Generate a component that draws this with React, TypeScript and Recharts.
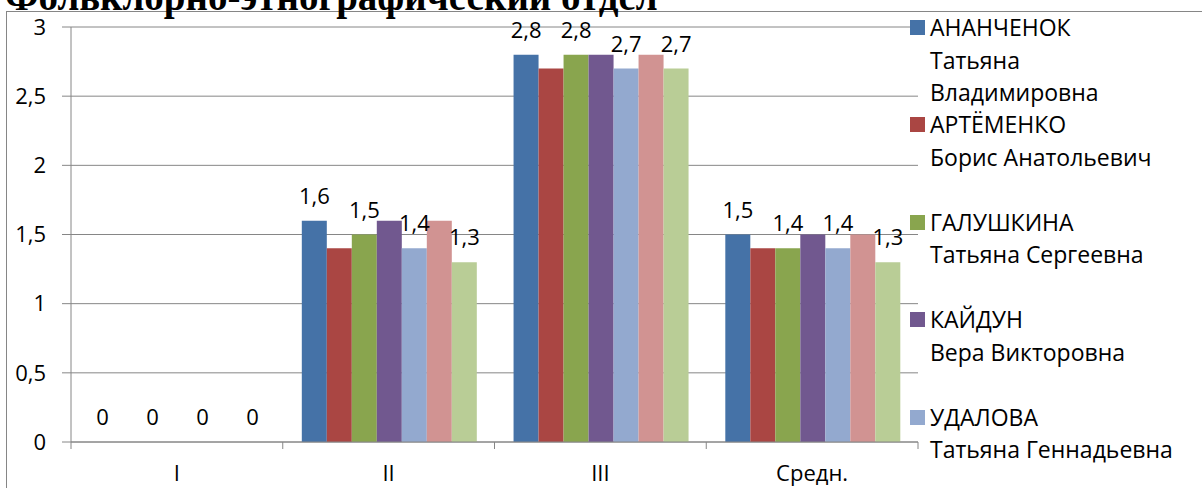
import { BarChart, Bar, XAxis, YAxis, CartesianGrid, LabelList, Legend } from "recharts";

const categories = ["I", "II", "III", "Средн."];
const teachers = [
  "АНАНЧЕНОК Татьяна Владимировна",
  "АРТЁМЕНКО Борис Анатольевич",
  "ГАЛУШКИНА Татьяна Сергеевна",
  "КАЙДУН Вера Викторовна",
  "УДАЛОВА Татьяна Геннадьевна",
  "Ряд 6",
  "Ряд 7",
];
const ananchenok = [0, 1.6, 2.8, 1.5];
const artemenko = [0, 1.4, 2.7, 1.4];
const galushkina = [0, 1.5, 2.8, 1.4];
const kaidun = [0, 1.6, 2.8, 1.5];
const udalova = [0, 1.4, 2.7, 1.4];
const row6 = [0, 1.6, 2.8, 1.5];
const row7 = [0, 1.3, 2.7, 1.3];
const yTicks = [0, 0.5, 1, 1.5, 2, 2.5, 3];

const palette = ["#4572A7", "#AA4643", "#89A54E", "#71588F", "#93A9CF", "#D19392", "#B9CD96"];
const seriesValues = [ananchenok, artemenko, galushkina, kaidun, udalova, row6, row7];

const data = categories.map((cat, i) => {
  const row: Record<string, string | number> = { cat };
  seriesValues.forEach((vals, s) => {
    row["s" + s] = vals[i];
  });
  return row;
});

const FONT = "'Open Sans', sans-serif";
const GRID = "#868686";
const comma = (v: any) => String(v).replace(".", ",");

// x labels sit at band centres; Excel puts its tick marks between the categories
function CategoryTick(props: any) {
  const { x, y, payload, index, width, visibleTicksCount } = props;
  const band = width / visibleTicksCount;
  const axisY = y - 23;
  const last = index === visibleTicksCount - 1;
  return (
    <g>
      <line x1={x - band / 2} y1={axisY} x2={x - band / 2} y2={axisY + 7} stroke={GRID} />
      {last && <line x1={x + band / 2} y1={axisY} x2={x + band / 2} y2={axisY + 7} stroke={GRID} />}
      <text x={x} y={y} dy="0.71em" textAnchor="middle" fill="#000" fontSize={22} fontFamily={FONT}>
        {payload.value}
      </text>
    </g>
  );
}

// zero bars still get their "0" labels, drawn right above the axis
function ValueLabel(props: any) {
  const { x, y, width, value } = props;
  if (value === undefined || value === null) return null;
  return (
    <text
      x={x + width / 2}
      y={y - 17}
      textAnchor="middle"
      fill="#000"
      fontSize={22}
      fontFamily={FONT}
    >
      {comma(value)}
    </text>
  );
}

function NameLegend(props: any) {
  const payload = [...(props.payload || [])].sort(
    (a: any, b: any) => Number(String(a.dataKey).slice(1)) - Number(String(b.dataKey).slice(1))
  );
  return (
    <div style={{ fontFamily: FONT, fontSize: 23, color: "#000" }}>
      {payload.map((entry: any) => {
        const words = String(entry.value).split(" ");
        return (
          <div key={entry.value} style={{ display: "flex", height: 97.4 }}>
            <span
              style={{
                width: 15,
                height: 15,
                marginTop: 9,
                marginRight: 5,
                background: entry.color,
                flex: "none",
              }}
            />
            <div style={{ width: 250, lineHeight: "32.5px", whiteSpace: "normal" }}>
              <div>{words[0]}</div>
              <div>{words.slice(1).join(" ")}</div>
            </div>
          </div>
        );
      })}
    </div>
  );
}

export default function App() {
  return (
    <div
      style={{
        position: "absolute",
        left: 0,
        top: 0,
        width: 1202,
        height: 488,
        overflow: "hidden",
        background: "#fff",
      }}
    >
      <div
        style={{
          position: "absolute",
          left: 6,
          top: 11,
          width: 1400,
          height: 700,
          border: `1px solid ${GRID}`,
        }}
      />
      <BarChart
        width={1202}
        height={488}
        data={data}
        margin={{ top: 27, right: 284, bottom: 0, left: 0 }}
        barCategoryGap="9%"
        barGap={0}
      >
        <CartesianGrid vertical={false} stroke={GRID} />
        <XAxis
          dataKey="cat"
          height={46}
          axisLine={{ stroke: GRID }}
          tickLine={false}
          tickSize={7}
          tickMargin={16}
          interval={0}
          tick={<CategoryTick />}
        />
        <YAxis
          width={71}
          domain={[0, 3]}
          ticks={yTicks}
          interval={0}
          tickSize={9}
          tickMargin={16}
          axisLine={{ stroke: GRID }}
          tickLine={{ stroke: GRID }}
          tickFormatter={comma}
          tick={{ fill: "#000", fontSize: 22, fontFamily: FONT }}
        />
        <Legend
          layout="vertical"
          verticalAlign="middle"
          align="center"
          itemSorter="dataKey"
          content={<NameLegend />}
          wrapperStyle={{ left: 910, top: 11, width: 292 }}
        />
        {seriesValues.map((_, s) => (
          <Bar
            key={s}
            dataKey={"s" + s}
            name={teachers[s]}
            fill={palette[s]}
            minPointSize={0.01}
            isAnimationActive={false}
          >
            {s % 2 === 0 && <LabelList dataKey={"s" + s} content={<ValueLabel />} />}
          </Bar>
        ))}
      </BarChart>
      <div
        style={{
          position: "absolute",
          left: 5,
          top: -23,
          fontFamily: "'Liberation Serif', serif",
          fontWeight: "bold",
          fontSize: 39,
          lineHeight: "39px",
          whiteSpace: "nowrap",
          color: "#000",
        }}
      >
        Фольклорно-этнографический отдел
      </div>
    </div>
  );
}
